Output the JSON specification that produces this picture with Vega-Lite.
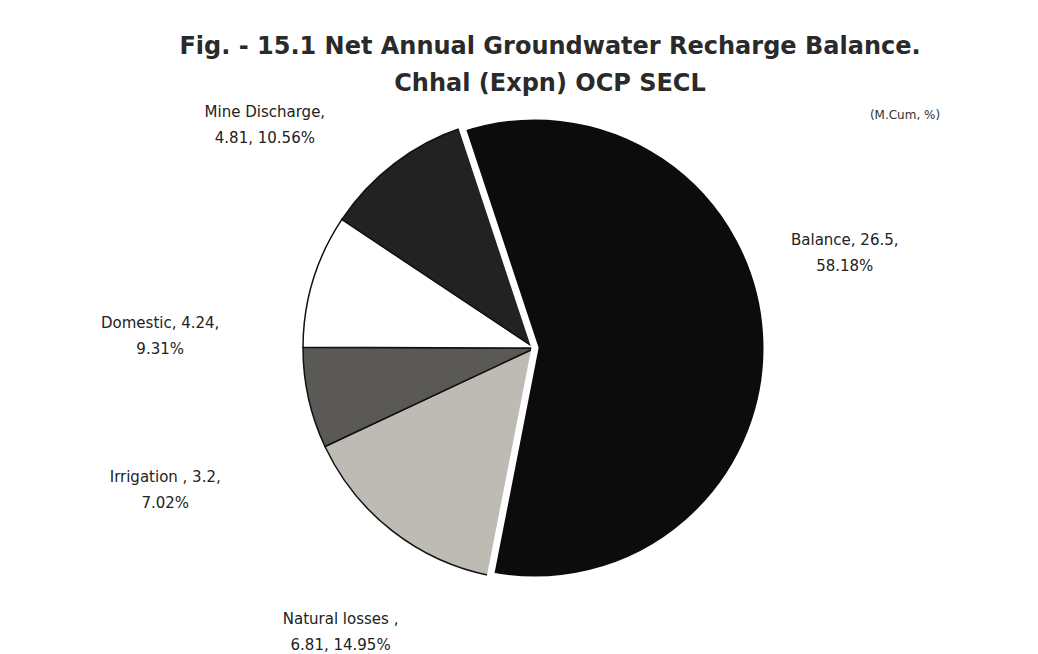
{
  "$schema": "https://vega.github.io/schema/vega-lite/v6.json",
  "autosize": "none",
  "padding": {"left": 32, "top": 100, "right": 0, "bottom": 58},
  "width": 1006,
  "height": 496,
  "background": "white",
  "view": {"stroke": null},
  "title": {
    "text": ["Fig. - 15.1 Net Annual Groundwater Recharge Balance.", "Chhal (Expn) OCP SECL"],
    "font": "DejaVu Sans",
    "fontSize": 24,
    "fontWeight": "bold",
    "color": "#2a2a2a",
    "anchor": "middle",
    "offset": -44,
    "lineHeight": 37,
    "dx": 15
  },
  "data": {
    "values": [
      {"cat": "Balance", "v": 26.5, "o": 1, "label": "Balance, 26.5,\n58.18%"},
      {"cat": "Natural losses", "v": 6.81, "o": 2, "label": "Natural losses ,\n6.81, 14.95%"},
      {"cat": "Irrigation", "v": 3.2, "o": 3, "label": "Irrigation , 3.2,\n7.02%"},
      {"cat": "Domestic", "v": 4.24, "o": 4, "label": "Domestic, 4.24,\n9.31%"},
      {"cat": "Mine Discharge", "v": 4.81, "o": 5, "label": "Mine Discharge,\n4.81, 10.56%"}
    ]
  },
  "resolve": {"scale": {"theta": "independent"}},
  "layer": [
    {
      "mark": {"type": "arc", "outerRadius": 232, "stroke": "#111111", "strokeWidth": 1.5},
      "encoding": {
        "theta": {"field": "v", "type": "quantitative", "stack": true, "scale": {"range": [-0.32, 5.9632]}},
        "order": {"field": "o", "type": "quantitative"},
        "color": {
          "field": "cat", "type": "nominal", "legend": null,
          "scale": {
            "domain": ["Balance", "Natural losses", "Irrigation", "Domestic", "Mine Discharge"],
            "range": ["#0c0c0c", "#bebbb5", "#5b5956", "#ffffff", "#222222"]
          }
        }
      }
    },
    {
      "mark": {"type": "arc", "outerRadius": 232, "fillOpacity": 0, "stroke": "white", "strokeWidth": 7},
      "encoding": {
        "theta": {"field": "v", "type": "quantitative", "stack": true, "scale": {"range": [-0.32, 5.9632]}},
        "order": {"field": "o", "type": "quantitative"},
        "strokeOpacity": {"condition": {"test": "datum.cat === 'Balance'", "value": 1}, "value": 0}
      }
    },
    {
      "mark": {"type": "text", "radius": 324, "dy": -13, "font": "DejaVu Sans", "fontSize": 15, "lineBreak": "\n", "lineHeight": 26, "color": "#222222"},
      "encoding": {
        "theta": {"field": "v", "type": "quantitative", "stack": true, "scale": {"range": [-0.554, 5.7292]}},
        "order": {"field": "o", "type": "quantitative"},
        "text": {"condition": {"test": "datum.cat === 'Balance'", "field": "label"}, "value": ""}
      }
    },
    {
      "mark": {"type": "text", "radius": 344, "dy": -13, "font": "DejaVu Sans", "fontSize": 15, "lineBreak": "\n", "lineHeight": 26, "color": "#222222"},
      "encoding": {
        "theta": {"field": "v", "type": "quantitative", "stack": true, "scale": {"range": [-0.382, 5.9012]}},
        "order": {"field": "o", "type": "quantitative"},
        "text": {"condition": {"test": "datum.cat === 'Natural losses'", "field": "label"}, "value": ""}
      }
    },
    {
      "mark": {"type": "text", "radius": 396, "dy": -13, "font": "DejaVu Sans", "fontSize": 15, "lineBreak": "\n", "lineHeight": 26, "color": "#222222"},
      "encoding": {
        "theta": {"field": "v", "type": "quantitative", "stack": true, "scale": {"range": [-0.468, 5.8152]}},
        "order": {"field": "o", "type": "quantitative"},
        "text": {"condition": {"test": "datum.cat === 'Irrigation'", "field": "label"}, "value": ""}
      }
    },
    {
      "mark": {"type": "text", "radius": 375, "dy": -13, "font": "DejaVu Sans", "fontSize": 15, "lineBreak": "\n", "lineHeight": 26, "color": "#222222"},
      "encoding": {
        "theta": {"field": "v", "type": "quantitative", "stack": true, "scale": {"range": [-0.584, 5.6992]}},
        "order": {"field": "o", "type": "quantitative"},
        "text": {"condition": {"test": "datum.cat === 'Domestic'", "field": "label"}, "value": ""}
      }
    },
    {
      "mark": {"type": "text", "radius": 350, "dy": -13, "font": "DejaVu Sans", "fontSize": 15, "lineBreak": "\n", "lineHeight": 26, "color": "#222222"},
      "encoding": {
        "theta": {"field": "v", "type": "quantitative", "stack": true, "scale": {"range": [-0.55, 5.7332]}},
        "order": {"field": "o", "type": "quantitative"},
        "text": {"condition": {"test": "datum.cat === 'Mine Discharge'", "field": "label"}, "value": ""}
      }
    },
    {
      "data": {"values": [{"t": "(M.Cum, %)"}]},
      "mark": {"type": "text", "font": "DejaVu Sans", "fontSize": 12, "color": "#333333"},
      "encoding": {"text": {"field": "t"}, "x": {"value": 873}, "y": {"value": 15}}
    }
  ]
}
